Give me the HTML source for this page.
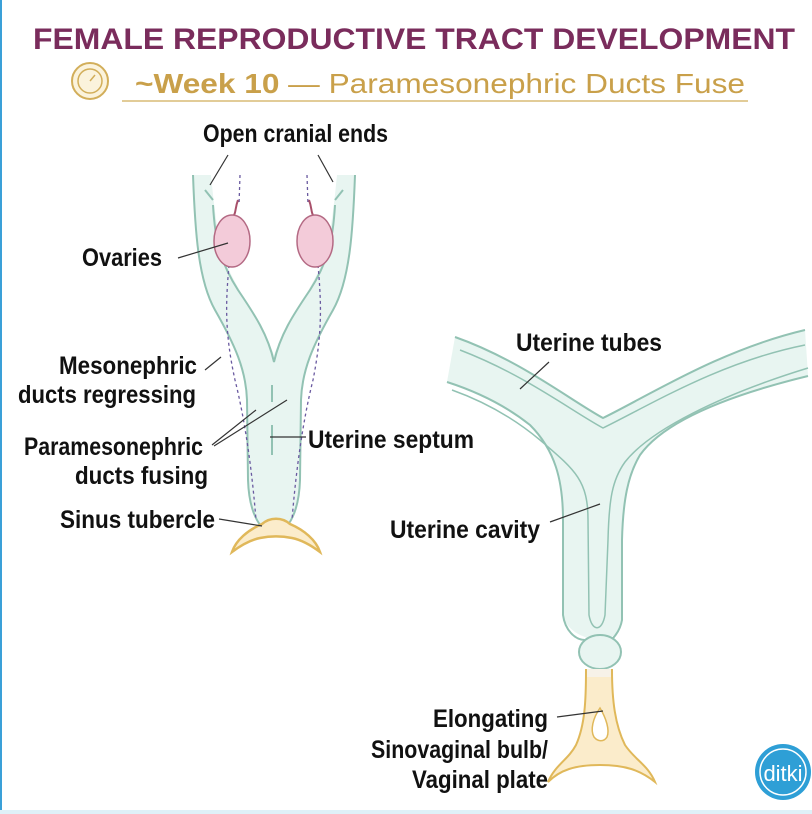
<!DOCTYPE html>
<html><head><meta charset="utf-8"><style>
html,body{margin:0;padding:0;background:#fff}
svg{display:block}
.lb{font-family:"Liberation Sans",sans-serif;font-size:25px;fill:#111;font-weight:bold}
</style></head><body>
<svg width="812" height="814" viewBox="0 0 812 814" xmlns="http://www.w3.org/2000/svg">
<rect x="0" y="0" width="812" height="814" fill="#fff"/>
<rect x="0" y="0" width="2" height="814" fill="#3aa0d8"/>
<rect x="0" y="810" width="812" height="4" fill="#dff0f8"/>
<!-- title -->
<text x="33" y="49" font-family="Liberation Sans,sans-serif" font-weight="bold" font-size="30" fill="#7a2c5c" textLength="762" lengthAdjust="spacingAndGlyphs">FEMALE REPRODUCTIVE TRACT DEVELOPMENT</text>
<circle cx="90" cy="81" r="18" fill="#fbf3dc" stroke="#d2ae5a" stroke-width="2"/>
<circle cx="90" cy="81" r="12" fill="none" stroke="#d2ae5a" stroke-width="1.5"/>
<line x1="90" y1="81" x2="95" y2="75" stroke="#d2ae5a" stroke-width="1.5"/>
<text x="135" y="93" font-family="Liberation Sans,sans-serif" font-size="28" fill="#c9a04a" textLength="610" lengthAdjust="spacingAndGlyphs"><tspan font-weight="bold">~Week 10</tspan> — Paramesonephric Ducts Fuse</text>
<line x1="122" y1="101" x2="748" y2="101" stroke="#d9bb76" stroke-width="1.5"/>

<!-- LEFT structure -->
<path d="M193,175 C195,230 198,280 215,310 C235,345 246,370 247,400 L248,480 C249,510 258,530 274,535 C290,530 299,510 300,480 L301,400 C302,370 313,345 333,310 C350,280 353,230 355,175 L337,175 C334,205 330,245 320,268 C305,300 285,325 274,355 C263,325 243,300 228,268 C218,245 214,205 211,175 Z" fill="#e8f5f1"/>
<path d="M193,175 C195,230 198,280 215,310 C235,345 246,370 247,400 L248,480 C249,510 258,530 274,535 C290,530 299,510 300,480 L301,400 C302,370 313,345 333,310 C350,280 353,230 355,175" fill="none" stroke="#92c2b3" stroke-width="2"/>
<path d="M213,205 C215,240 220,262 238,290 C255,315 268,335 274,362 C280,335 293,315 310,290 C328,262 333,240 335,205" fill="none" stroke="#92c2b3" stroke-width="2"/>
<path d="M205,190 L213,200 M343,190 L335,200" stroke="#92c2b3" stroke-width="2"/>
<path d="M240,175 L239,205 M229,265 C226,300 224,330 235,380 C245,420 252,470 256,520" fill="none" stroke="#6a5aa0" stroke-width="1.3" stroke-dasharray="3,3"/>
<path d="M307,175 L308,205 M318,265 C321,300 323,330 313,380 C303,420 296,470 292,520" fill="none" stroke="#6a5aa0" stroke-width="1.3" stroke-dasharray="3,3"/>
<path d="M238,200 C235,208 236,212 234,215 M309,200 C312,208 311,212 313,215" stroke="#a8506a" stroke-width="2" fill="none"/>
<ellipse cx="232" cy="241" rx="18" ry="26" fill="#f3cbd9" stroke="#b46a84" stroke-width="1.5"/>
<ellipse cx="315" cy="241" rx="18" ry="26" fill="#f3cbd9" stroke="#b46a84" stroke-width="1.5"/>
<line x1="272" y1="385" x2="272" y2="402" stroke="#92c2b3" stroke-width="2"/>
<line x1="272" y1="425" x2="272" y2="455" stroke="#92c2b3" stroke-width="2"/>
<!-- sinus tubercle -->
<path d="M232,552 C236,540 248,530 262,524 C270,517 282,517 290,524 C304,530 316,540 320,552 C312,546 302,540 292,538 C282,536 270,536 260,538 C250,540 240,546 232,552 Z" fill="#fbeccb" stroke="#e0b85a" stroke-width="2.5"/>
<!-- left labels -->
<text class="lb" x="203" y="142" textLength="185" lengthAdjust="spacingAndGlyphs">Open cranial ends</text>
<path d="M228,155 L210,185 M318,155 L333,182" stroke="#333" stroke-width="1.2"/>
<text class="lb" x="82" y="266" textLength="80" lengthAdjust="spacingAndGlyphs">Ovaries</text>
<line x1="178" y1="258" x2="228" y2="243" stroke="#333" stroke-width="1.2"/>
<text class="lb" x="59" y="374" textLength="138" lengthAdjust="spacingAndGlyphs">Mesonephric</text>
<text class="lb" x="18" y="403" textLength="178" lengthAdjust="spacingAndGlyphs">ducts regressing</text>
<line x1="205" y1="370" x2="221" y2="357" stroke="#333" stroke-width="1.2"/>
<text class="lb" x="24" y="455" textLength="179" lengthAdjust="spacingAndGlyphs">Paramesonephric</text>
<text class="lb" x="75" y="484" textLength="133" lengthAdjust="spacingAndGlyphs">ducts fusing</text>
<path d="M212,445 L256,410 M214,446 L287,400" stroke="#333" stroke-width="1.2" fill="none"/>
<text class="lb" x="308" y="448" textLength="166" lengthAdjust="spacingAndGlyphs">Uterine septum</text>
<line x1="270" y1="437" x2="306" y2="437" stroke="#333" stroke-width="1.2"/>
<text class="lb" x="60" y="528" textLength="155" lengthAdjust="spacingAndGlyphs">Sinus tubercle</text>
<line x1="219" y1="519" x2="262" y2="526" stroke="#333" stroke-width="1.2"/>

<!-- RIGHT structure -->
<path d="M455,337 C520,360 570,400 603,418 C650,395 720,350 805,330 L808,375 C730,395 665,420 640,455 C628,475 623,500 622,540 L622,620 C620,632 612,640 600,640 C588,640 566,632 563,615 L563,520 C563,480 555,450 530,425 C505,405 478,392 447,382 Z" fill="#e8f5f1"/>
<path d="M455,337 C520,360 570,400 603,418 C650,395 720,350 805,330" fill="none" stroke="#92c2b3" stroke-width="2"/>
<path d="M460,350 C525,375 570,410 603,428 C650,405 720,362 805,345" fill="none" stroke="#92c2b3" stroke-width="1.5"/>
<path d="M447,382 C478,392 505,405 530,425 C555,450 563,480 563,520 L563,615 C565,630 575,640 585,640" fill="none" stroke="#92c2b3" stroke-width="2"/>
<path d="M452,390 C480,400 510,415 540,440 C575,470 588,480 588,520 L589,615 C592,632 602,632 605,615 L608,540 C609,500 612,480 625,462 C650,430 720,395 808,368" fill="none" stroke="#92c2b3" stroke-width="1.5"/>
<path d="M808,376 C730,395 665,420 640,455 C628,475 623,500 622,540 L622,620 C620,632 612,640 608,642" fill="none" stroke="#92c2b3" stroke-width="2"/>
<ellipse cx="600" cy="652" rx="21" ry="17" fill="#e8f5f1" stroke="#92c2b3" stroke-width="2"/>
<!-- vaginal plate -->
<path d="M586,670 L612,670 C612,700 615,725 625,745 C635,760 648,765 655,782 C640,770 625,765 600,765 C575,765 560,770 548,782 C555,765 568,760 576,745 C585,725 586,700 586,670 Z" fill="#fbeccb" stroke="#e0b85a" stroke-width="2"/>
<path d="M600,708 C593,718 590,730 594,737 C598,742 604,742 607,737 C610,730 606,718 600,708 Z" fill="#fff" stroke="#e0b85a" stroke-width="1.5"/>
<rect x="587" y="669" width="24" height="8" fill="#f7f2e8"/>
<!-- right labels -->
<text class="lb" x="516" y="351" textLength="146" lengthAdjust="spacingAndGlyphs">Uterine tubes</text>
<line x1="549" y1="362" x2="520" y2="389" stroke="#333" stroke-width="1.2"/>
<text class="lb" x="390" y="538" textLength="150" lengthAdjust="spacingAndGlyphs">Uterine cavity</text>
<line x1="550" y1="522" x2="600" y2="504" stroke="#333" stroke-width="1.2"/>
<text class="lb" x="433" y="727" textLength="115" lengthAdjust="spacingAndGlyphs">Elongating</text>
<text class="lb" x="371" y="758" textLength="177" lengthAdjust="spacingAndGlyphs">Sinovaginal bulb/</text>
<text class="lb" x="412" y="788" textLength="136" lengthAdjust="spacingAndGlyphs">Vaginal plate</text>
<line x1="557" y1="717" x2="603" y2="711" stroke="#333" stroke-width="1.2"/>
<!-- logo -->
<circle cx="783" cy="772" r="28" fill="#2e9fd6"/>
<circle cx="783" cy="772" r="23" fill="none" stroke="#fff" stroke-width="1.5"/>
<text x="783" y="781" text-anchor="middle" font-family="Liberation Sans,sans-serif" font-size="22" fill="#fff">ditki</text>
</svg>
</body></html>
